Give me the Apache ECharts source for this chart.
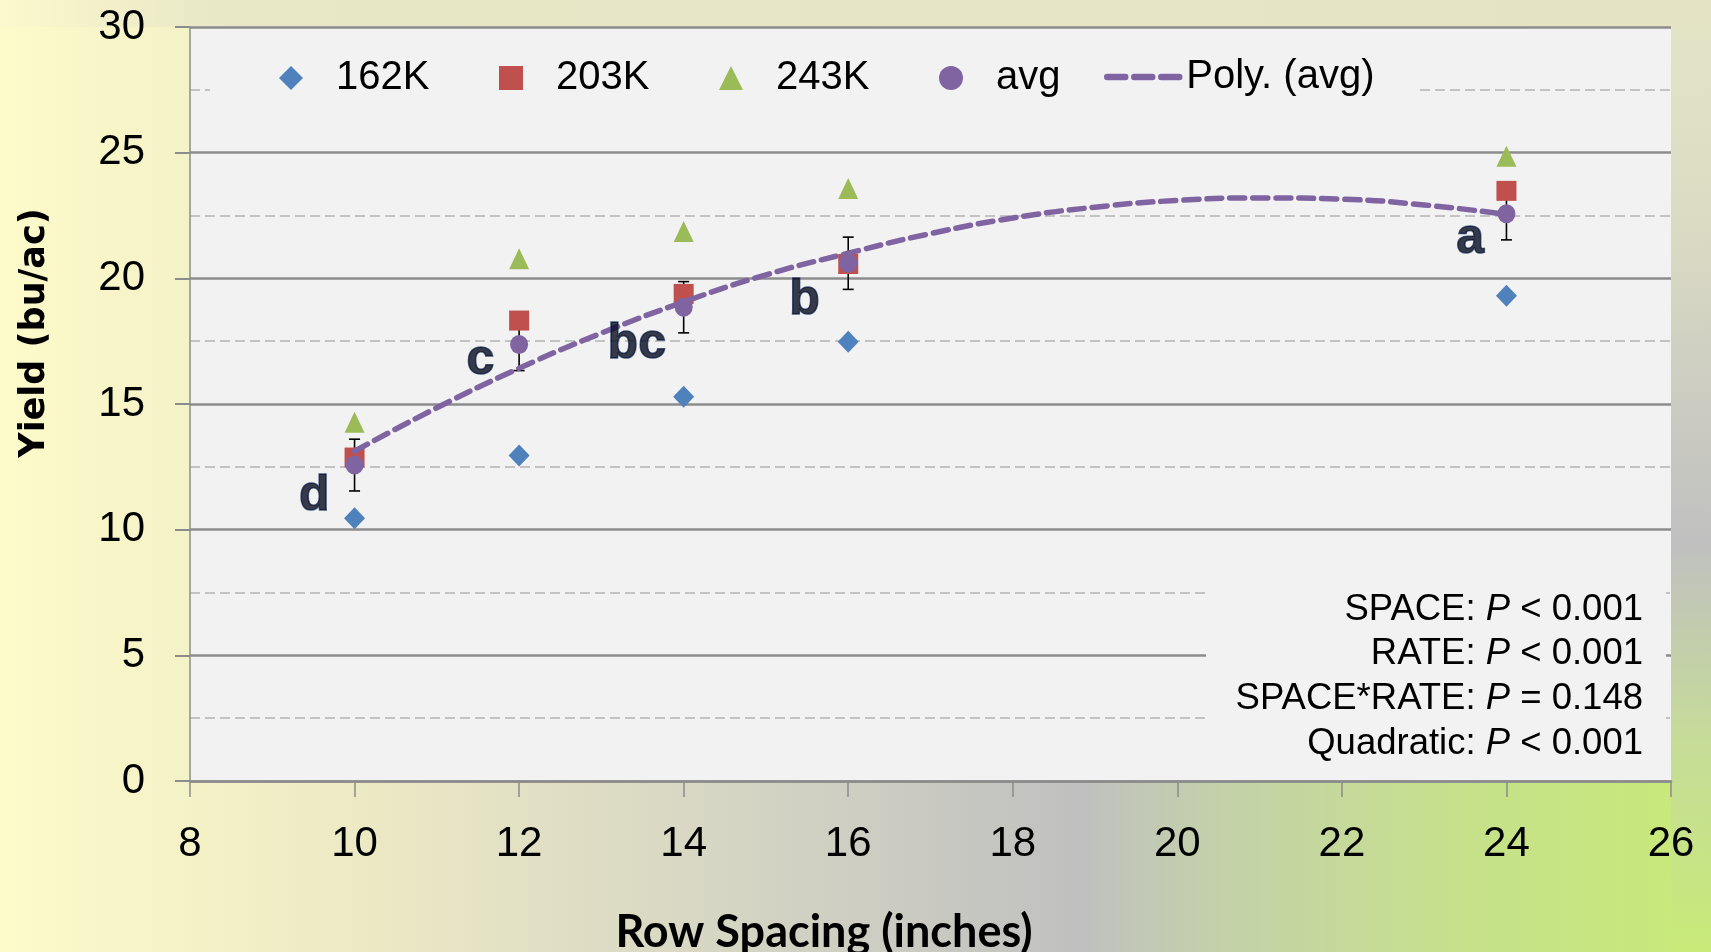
<!DOCTYPE html>
<html>
<head>
<meta charset="utf-8">
<script src="https://cdn.jsdelivr.net/npm/echarts@6/dist/echarts.min.js"></script>
<style>
html, body { margin: 0; padding: 0; width: 1711px; height: 952px; overflow: hidden; }
body {
  background:
    linear-gradient(to right, #fbf9cd 0px, #e8e7c6 220px, #e4e4c5 100%) left top / 100% 27px no-repeat,
    linear-gradient(to bottom, #e4e4c6 0%, #dcdcc4 22%, #c0c0c0 57%, #c6dc98 78%, #c8ea78 100%) right top / 40px 100% no-repeat,
    linear-gradient(to right, #fdfbca 0%, #ebe9c4 22%, #d6d6c4 42%, #c0c0c0 63%, #c4d2a8 72%, #c6e18a 86%, #c8ea78 100%);
}
#chart { width: 1711px; height: 952px; }
</style>
</head>
<body>
<div id="chart"></div>
<script>
// ---- data ----
const rowSpacing = [10, 12, 14, 16, 24];
const yield162K = [10.45, 12.95, 15.29, 17.48, 19.31];
const yield203K = [12.87, 18.32, 19.38, 20.57, 23.48];
const yield243K = [14.27, 20.78, 21.86, 23.57, 24.86];
const yieldAvg  = [12.57, 17.37, 18.85, 20.60, 22.57];
const avgErr    = [1.03, 1.04, 1.02, 1.04, 1.04];

// polynomial trend line at each inch
const polyX = [10, 11, 12, 13, 14, 15, 16, 17, 18, 19, 20, 21, 22, 23, 24];
const polyY = [13.12, 14.85, 16.42, 17.82, 19.06, 20.14, 21.00, 21.78, 22.40, 22.83, 23.10, 23.20, 23.15, 22.92, 22.54];

// significance letters
const letterText = ['d', 'c', 'bc', 'b', 'a'];
const letterX = [9.51, 11.53, 13.43, 15.47, 23.56];
const letterY = [11.34, 16.75, 17.36, 19.14, 21.54];

const statLines = [
  ['SPACE: ', 'P', ' < 0.001'],
  ['RATE: ', 'P', ' < 0.001'],
  ['SPACE*RATE: ', 'P', ' = 0.148'],
  ['Quadratic: ', 'P', ' < 0.001']
];

const legendNames = ['162K', '203K', '243K', 'avg', 'Poly. (avg)'];
const colors = { '162K': '#4f81bd', '203K': '#c0504d', '243K': '#9bbb59', 'avg': '#8064a2' };

// ---- chart ----
const chart = echarts.init(document.getElementById('chart'), null, { renderer: 'canvas' });
const FONT = '"Liberation Sans", Arial, sans-serif';

function pairs(xs, ys) { return xs.map((x, i) => [x, ys[i]]); }

const legendIcons = {
  '162K': 'path://M0,-10L10,0L0,10L-10,0Z',
  '203K': 'path://M-10,-10H10V10H-10Z',
  '243K': 'path://M0,-10L10,10L-10,10Z',
  'avg': 'path://M10,0A10,10,0,1,1,-10,0A10,10,0,1,1,10,0Z'
};
const legendLeft = [281, 501, 721, 941, 1104];

const legends = legendNames.map((name, i) => {
  const isLine = name === 'Poly. (avg)';
  const item = isLine
    ? { name: name, itemStyle: { opacity: 0 }, lineStyle: { color: '#8064a2', width: 6.5, type: [18, 9], cap: 'round', opacity: 1 } }
    : { name: name, icon: legendIcons[name], itemStyle: { color: colors[name], opacity: 1 } };
  return {
    data: [item],
    left: isLine ? legendLeft[i] : legendLeft[i] - 2, top: isLine ? 57 : 58,
    padding: 0,
    itemWidth: isLine ? 74 : 80,
    itemHeight: isLine ? 19 : 24,
    symbolKeepAspect: true,
    textStyle: { fontFamily: FONT, fontSize: 40, color: '#000' },
    selectedMode: false,
    z: 6
  };
});

const statGraphics = statLines.map((parts, i) => ({
  type: 'text',
  right: 1711 - 1643,
  top: 591 + i * 44.7,
  z: 10,
  style: {
    text: '{n|' + parts[0] + '}{i|' + parts[1] + '}{n|' + parts[2] + '}',
    rich: {
      n: { fontFamily: FONT, fontSize: 36.5, fill: '#000' },
      i: { fontFamily: FONT, fontSize: 36.5, fontStyle: 'italic', fill: '#000' }
    }
  }
}));

const option = {
  animation: false,
  backgroundColor: 'transparent',
  grid: {
    left: 190, right: 40, top: 27, bottom: 171,
    show: true, backgroundColor: '#f2f2f2', borderWidth: 0,
    outerBoundsMode: 'none'
  },
  legend: legends,
  xAxis: {
    type: 'value', min: 8, max: 26, interval: 2,
    axisLine: { show: true, onZero: false, lineStyle: { color: '#8c8c8c', width: 2.5 } },
    axisTick: { show: true, inside: false, length: 16, lineStyle: { color: '#8c8c8c', width: 1.5 } },
    axisLabel: { fontFamily: FONT, fontSize: 42, color: '#000', margin: 42 },
    splitLine: { show: false }
  },
  yAxis: {
    type: 'value', min: 0, max: 30, interval: 5,
    axisLine: { show: true, lineStyle: { color: '#8c8c8c', width: 1.5 } },
    axisTick: { show: true, length: 15, lineStyle: { color: '#8c8c8c', width: 2 } },
    axisLabel: { fontFamily: FONT, fontSize: 42, color: '#000', margin: 45 },
    splitLine: { show: true, lineStyle: { color: '#8c8c8c', width: 2.5 } },
    minorTick: { show: false, splitNumber: 2 },
    minorSplitLine: { show: true, lineStyle: { color: '#c3c3c3', width: 2, type: [10, 5] } }
  },
  graphic: [
    {
      type: 'rect', left: 210, top: 55, z: 2,
      shape: { width: 1210, height: 46 },
      style: { fill: '#f2f2f2' }
    },
    {
      type: 'rect', left: 1206, top: 584, z: 5,
      shape: { width: 460, height: 182 },
      style: { fill: '#f2f2f2' }
    },
    ...statGraphics,
    {
      type: 'text', z: 10,
      originX: 35, originY: 333,
      rotation: Math.PI / 2,
      style: {
        text: 'Yield (bu/ac)', x: 35, y: 333,
        fontFamily: '"DejaVu Sans", Verdana, sans-serif', fontWeight: 'bold', fontSize: 35, fill: '#000',
        align: 'center', verticalAlign: 'middle'
      }
    },
    {
      type: 'text', z: 10,
      style: {
        text: 'Row Spacing (inches)', x: 824, y: 932,
        fontFamily: 'Lato, "Open Sans", sans-serif', fontWeight: 'bold', fontSize: 45, fill: '#000',
        align: 'center', verticalAlign: 'middle'
      }
    }
  ],
  series: [
    {
      name: 'errbars', type: 'custom', z: 1, silent: true,
      data: rowSpacing.map((x, i) => [x, yieldAvg[i], avgErr[i]]),
      renderItem: function (params, api) {
        const x = api.value(0), y = api.value(1), e = api.value(2);
        const t = api.coord([x, y + e]);
        const b = api.coord([x, y - e]);
        const hw = 5.5;
        const st = { stroke: '#000', lineWidth: 1.6 };
        return {
          type: 'group',
          children: [
            { type: 'line', shape: { x1: t[0], y1: t[1], x2: b[0], y2: b[1] }, style: st },
            { type: 'line', shape: { x1: t[0] - hw, y1: t[1], x2: t[0] + hw, y2: t[1] }, style: st },
            { type: 'line', shape: { x1: b[0] - hw, y1: b[1], x2: b[0] + hw, y2: b[1] }, style: st }
          ]
        };
      }
    },
    {
      name: '162K', type: 'scatter', symbol: 'diamond', symbolSize: [21, 22], z: 3,
      itemStyle: { color: colors['162K'], opacity: 1 }, data: pairs(rowSpacing, yield162K)
    },
    {
      name: '243K', type: 'scatter', symbol: 'triangle', symbolSize: [20, 21], z: 3,
      itemStyle: { color: colors['243K'], opacity: 1 }, data: pairs(rowSpacing, yield243K)
    },
    {
      name: '203K', type: 'scatter', symbol: 'rect', symbolSize: 20, z: 3,
      itemStyle: { color: colors['203K'], opacity: 1 }, data: pairs(rowSpacing, yield203K)
    },
    {
      name: 'Poly. (avg)', type: 'line', smooth: true, symbol: 'none', z: 4,
      lineStyle: { color: '#8064a2', width: 5.5, type: [15, 8], cap: 'round' },
      itemStyle: { color: '#8064a2' },
      data: pairs(polyX, polyY)
    },
    {
      name: 'avg', type: 'scatter', symbol: 'circle', symbolSize: [18, 19], z: 5,
      itemStyle: { color: colors['avg'], opacity: 1 }, data: pairs(rowSpacing, yieldAvg)
    },
    {
      name: 'letters', type: 'scatter', symbolSize: 0, z: 6, silent: true,
      data: letterX.map((x, i) => ({ value: [x, letterY[i]], name: letterText[i] })),
      label: {
        show: true, position: 'inside',
        formatter: p => p.name,
        fontFamily: FONT, fontWeight: 'bold', fontSize: 50, color: '#050a1e',
        textBorderColor: '#1f3864', textBorderWidth: 1.5
      }
    }
  ]
};
chart.setOption(option);
</script>
</body>
</html>
